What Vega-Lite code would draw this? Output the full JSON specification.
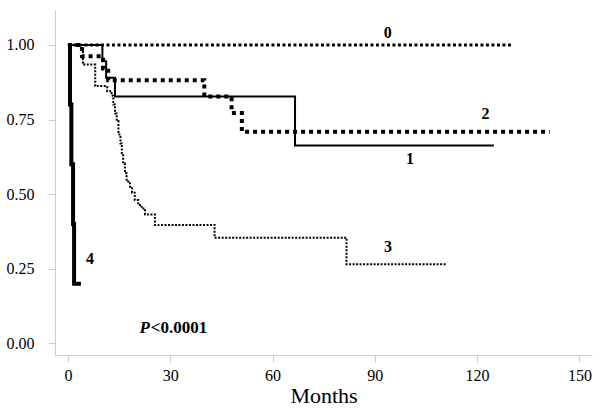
{
  "$schema": "https://vega.github.io/schema/vega-lite/v6.json",
  "width": 537,
  "height": 345,
  "autosize": {"type": "none"},
  "padding": {"left": 55, "top": 10, "right": 8, "bottom": 57},
  "background": "white",
  "config": {
    "view": {"stroke": null},
    "font": "Liberation Serif",
    "axis": {
      "domainColor": "#cccccc",
      "tickColor": "#cccccc",
      "grid": false,
      "labelFont": "Liberation Serif",
      "labelFontSize": 16,
      "labelColor": "black",
      "titleFont": "Liberation Serif",
      "titleFontWeight": "normal",
      "titleColor": "black",
      "tickSize": 7
    }
  },
  "datasets": {
    "curves": [
      {"group": "0", "month": 0, "surv": 1.0},
      {"group": "0", "month": 130, "surv": 1.0},
      {"group": "1", "month": 0, "surv": 1.0},
      {"group": "1", "month": 10.1, "surv": 0.945},
      {"group": "1", "month": 11.2, "surv": 0.89},
      {"group": "1", "month": 13.8, "surv": 0.827},
      {"group": "1", "month": 66.6, "surv": 0.663},
      {"group": "1", "month": 124.9, "surv": 0.663},
      {"group": "2", "month": 0, "surv": 1.0},
      {"group": "2", "month": 4.1, "surv": 0.962},
      {"group": "2", "month": 10.3, "surv": 0.921},
      {"group": "2", "month": 11.8, "surv": 0.882},
      {"group": "2", "month": 40.0, "surv": 0.827},
      {"group": "2", "month": 48.0, "surv": 0.772},
      {"group": "2", "month": 51.0, "surv": 0.709},
      {"group": "2", "month": 141.3, "surv": 0.709},
      {"group": "3", "month": 0, "surv": 1.0},
      {"group": "3", "month": 4.4, "surv": 0.934},
      {"group": "3", "month": 8.0, "surv": 0.862},
      {"group": "3", "month": 11.5, "surv": 0.845},
      {"group": "3", "month": 12.8, "surv": 0.83},
      {"group": "3", "month": 13.3, "surv": 0.8},
      {"group": "3", "month": 13.8, "surv": 0.77},
      {"group": "3", "month": 14.3, "surv": 0.745},
      {"group": "3", "month": 14.8, "surv": 0.7},
      {"group": "3", "month": 15.4, "surv": 0.67},
      {"group": "3", "month": 15.8, "surv": 0.637},
      {"group": "3", "month": 16.2, "surv": 0.603},
      {"group": "3", "month": 16.7, "surv": 0.57},
      {"group": "3", "month": 17.2, "surv": 0.542},
      {"group": "3", "month": 18.2, "surv": 0.525},
      {"group": "3", "month": 18.8, "surv": 0.505},
      {"group": "3", "month": 19.6, "surv": 0.48},
      {"group": "3", "month": 20.6, "surv": 0.464},
      {"group": "3", "month": 21.6, "surv": 0.452},
      {"group": "3", "month": 22.6, "surv": 0.432},
      {"group": "3", "month": 25.5, "surv": 0.397},
      {"group": "3", "month": 43.0, "surv": 0.354},
      {"group": "3", "month": 81.7, "surv": 0.265},
      {"group": "3", "month": 111.0, "surv": 0.265},
      {"group": "4", "month": 0, "surv": 1.0},
      {"group": "4", "month": 0.6, "surv": 0.8},
      {"group": "4", "month": 1.0, "surv": 0.6},
      {"group": "4", "month": 1.5, "surv": 0.4},
      {"group": "4", "month": 1.8, "surv": 0.2},
      {"group": "4", "month": 3.8, "surv": 0.2}
    ],
    "labels": [
      {"text": "0", "month": 93.8, "surv": 1.04},
      {"text": "2", "month": 122.5, "surv": 0.768},
      {"text": "1", "month": 100.3, "surv": 0.617},
      {"text": "3", "month": 93.9, "surv": 0.324},
      {"text": "4", "month": 6.45, "surv": 0.282}
    ],
    "pval": [
      {"part": "P", "month": 21.0, "surv": 0.051},
      {"part": "<0.0001", "month": 24.3, "surv": 0.051}
    ]
  },
  "encoding": {
    "x": {
      "field": "month", "type": "quantitative",
      "scale": {"domain": [-3.8, 153.7], "nice": false, "zero": false},
      "axis": {"values": [0, 30, 60, 90, 120, 150], "title": "Months", "titleFontSize": 22, "titlePadding": 2, "labelPadding": 5}
    },
    "y": {
      "field": "surv", "type": "quantitative",
      "scale": {"domain": [-0.039, 1.117], "nice": false, "zero": false},
      "axis": {"values": [0, 0.25, 0.5, 0.75, 1.0], "format": ".2f", "title": null, "labelPadding": 14}
    }
  },
  "layer": [
    {
      "data": {"name": "curves"},
      "transform": [{"filter": "datum.group === '0'"}],
      "mark": {"type": "line", "interpolate": "step-after", "color": "black", "strokeWidth": 3, "strokeDash": [3, 2.5], "strokeCap": "butt"}
    },
    {
      "data": {"name": "curves"},
      "transform": [{"filter": "datum.group === '1'"}],
      "mark": {"type": "line", "interpolate": "step-after", "color": "black", "strokeWidth": 2}
    },
    {
      "data": {"name": "curves"},
      "transform": [{"filter": "datum.group === '2'"}],
      "mark": {"type": "line", "interpolate": "step-after", "color": "black", "strokeWidth": 4, "strokeDash": [4, 4], "strokeCap": "butt"}
    },
    {
      "data": {"name": "curves"},
      "transform": [{"filter": "datum.group === '3'"}],
      "mark": {"type": "line", "interpolate": "step-after", "color": "black", "strokeWidth": 2, "strokeDash": [2, 1.5], "strokeCap": "butt"}
    },
    {
      "data": {"name": "curves"},
      "transform": [{"filter": "datum.group === '4'"}],
      "mark": {"type": "line", "interpolate": "step-after", "color": "black", "strokeWidth": 4}
    },
    {
      "data": {"name": "labels"},
      "mark": {"type": "text", "font": "Liberation Serif", "fontSize": 16, "fontWeight": "bold", "color": "black", "baseline": "middle", "align": "center"},
      "encoding": {"text": {"field": "text"}}
    },
    {
      "data": {"name": "pval"},
      "transform": [{"filter": "datum.part === 'P'"}],
      "mark": {"type": "text", "font": "Liberation Serif", "fontSize": 17, "fontWeight": "bold", "fontStyle": "italic", "color": "black", "baseline": "middle", "align": "left"},
      "encoding": {"text": {"field": "part"}}
    },
    {
      "data": {"name": "pval"},
      "transform": [{"filter": "datum.part !== 'P'"}],
      "mark": {"type": "text", "font": "Liberation Serif", "fontSize": 17, "fontWeight": "bold", "color": "black", "baseline": "middle", "align": "left"},
      "encoding": {"text": {"field": "part"}}
    }
  ]
}
